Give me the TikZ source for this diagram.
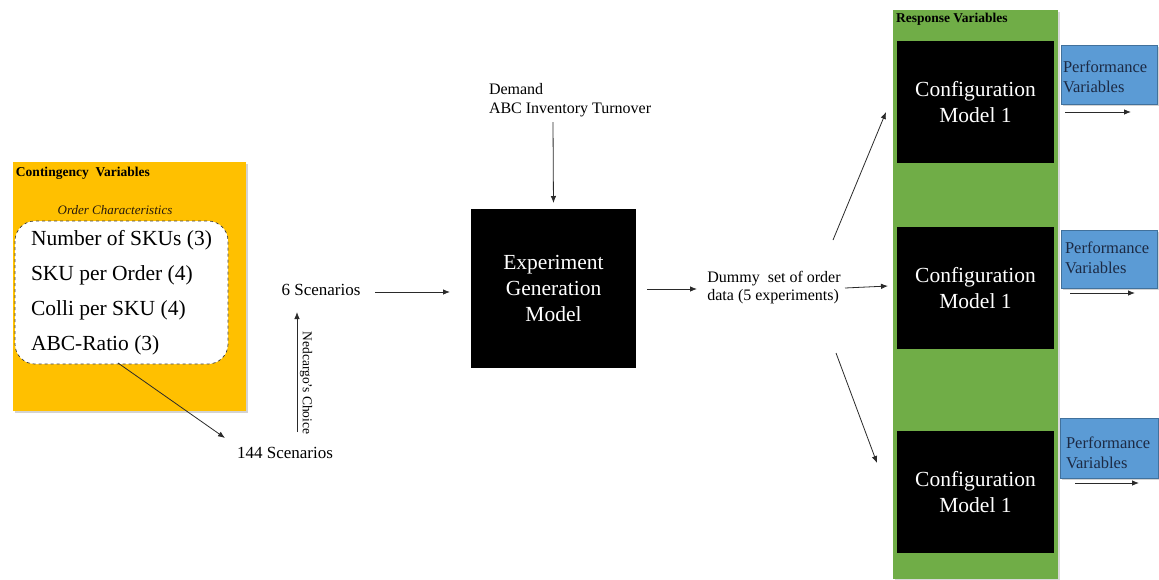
\documentclass[tikz,border=0pt]{standalone}
\usepackage{fontspec}
\setmainfont{Liberation Serif}
\usetikzlibrary{arrows.meta,shadows}
\definecolor{contorange}{HTML}{FFC000}
\definecolor{respgreen}{HTML}{70AD47}
\definecolor{perfblue}{HTML}{5B9BD5}
\definecolor{perfedge}{HTML}{41719C}
\definecolor{perftext}{HTML}{1C2A44}
\definecolor{linegray}{HTML}{2A2A2A}
\newcommand{\fsz}[2]{\rmfamily\fontsize{#1}{#2}\selectfont}
\begin{document}
\begin{tikzpicture}[x=1pt,y=-1pt,
  every node/.style={inner sep=0pt, outer sep=0pt},
  arr/.style={draw=linegray, line width=0.8pt, -{Latex[length=7pt,width=5.5pt]}},
  blackbox/.style={fill=black, draw=none, text=white, align=center,
    font=\fsz{21.5}{26}},
  perfbox/.style={fill=perfblue, draw=perfedge, line width=0.5pt,
    drop shadow={shadow xshift=1.5pt, shadow yshift=-1.5pt, opacity=0.35}},
  perftxt/.style={anchor=west, align=left, text=perftext, font=\fsz{16.5}{20}},
  plain/.style={font=\fsz{17}{20}}]
\useasboundingbox (0,0) rectangle (1159,579);

% ---- contingency variables ----
\fill[contorange, drop shadow={shadow xshift=1.5pt, shadow yshift=-1.5pt, opacity=0.35}]
  (13,162) rectangle (246,411);
\node[anchor=west, font=\fsz{13.5}{16}\bfseries] (conttitle) at (16,173) {Contingency\ \ Variables};
\node[font=\fsz{13}{15}\itshape, text=black!80!brown] (ordchar) at (115,210) {Order Characteristics};
\draw[fill=white, dashed, draw=black!75, line width=0.7pt, rounded corners=20pt]
  (15,221) rectangle (228,364);
\node[anchor=west, font=\fsz{21.5}{25}] (v1) at (31,240) {Number of SKUs\ (3)};
\node[anchor=west, font=\fsz{21.5}{25}] (v2) at (31,275) {SKU\ per Order (4)};
\node[anchor=west, font=\fsz{21.5}{25}] (v3) at (31,310) {Colli per SKU\ (4)};
\node[anchor=west, font=\fsz{21.5}{25}] (v4) at (31,345) {ABC-Ratio (3)};

% ---- scenario reduction ----
\node[plain] (s144) at (285,453) {144 Scenarios};
\node[plain] (s6) at (321,290) {6 Scenarios};
\node[font=\fsz{13.5}{16}, rotate=-90] (choice) at (306,383) {Nedcargo's Choice};

% ---- experiment generation ----
\node[blackbox, minimum width=165, minimum height=159] (exp) at (553.5,288.5)
  {Experiment\\Generation\\Model};
\node[anchor=west, align=left, font=\fsz{16}{19}]
  (demand) at (489,100.5) {Demand\\ABC Inventory Turnover};
\node[align=left, font=\fsz{16}{18}]
  (dummy) at (774,288) {Dummy\ \ set of order\\data (5 experiments)};

% ---- response variables ----
\fill[respgreen, drop shadow={shadow xshift=1.5pt, shadow yshift=-1.5pt, opacity=0.3}]
  (893,10) rectangle (1058,579);
\node[anchor=west, font=\fsz{13.5}{16}\bfseries] (resptitle) at (896,19) {Response Variables};
\node[blackbox, minimum width=157, minimum height=122] (cm1) at (975.5,102)
  {Configuration\\Model 1};
\node[blackbox, minimum width=157, minimum height=122] (cm2) at (975.5,288)
  {Configuration\\Model 1};
\node[blackbox, minimum width=157, minimum height=122] (cm3) at (975.5,492)
  {Configuration\\Model 1};

% ---- performance variables ----
\node[perfbox, minimum width=96, minimum height=59] (pb1) at (1109,74.5) {};
\node[perftxt] (pt1) at (1063,77) {Performance\\Variables};
\node[perfbox, minimum width=96, minimum height=58] (pb2) at (1109,259) {};
\node[perftxt] (pt2) at (1065,258) {Performance\\Variables};
\node[perfbox, minimum width=98, minimum height=60] (pb3) at (1109,448) {};
\node[perftxt] (pt3) at (1066,453) {Performance\\Variables};

% ---- connector end points ----
\coordinate (abcout) at (118,363);
\coordinate (s144in) at (225,438);
\coordinate (choicelow) at (297,432);
\coordinate (choicetop) at (297,312);
\coordinate (s6out) at (375,292);
\coordinate (expin) at (450,292);
\coordinate (demout) at (553,122);
\coordinate (expout) at (647,289);
\coordinate (dummyin) at (697,289);
\coordinate (dummyout) at (845,288);
\coordinate (cm2in) at (888,286);
\coordinate (upfrom) at (833,240);
\coordinate (cm1in) at (886,112);
\coordinate (downfrom) at (836,353);
\coordinate (cm3in) at (877,463);
\coordinate (o1a) at (1065,112);
\coordinate (o1b) at (1131,112);
\coordinate (o2a) at (1070,293);
\coordinate (o2b) at (1135,293);
\coordinate (o3a) at (1075,483);
\coordinate (o3b) at (1139,483);

% ---- connectors ----
\draw[arr] (abcout) -- (s144in);
\draw[arr] (choicelow) -- (choicetop);
\draw[arr] (s6out) -- (expin);
\draw[arr, shorten >=6pt] (demout) -- (exp.north);
\draw[arr] (expout) -- (dummyin);
\draw[arr] (dummyout) -- (cm2in);
\draw[arr] (upfrom) -- (cm1in);
\draw[arr] (downfrom) -- (cm3in);
\draw[arr] (o1a) -- (o1b);
\draw[arr] (o2a) -- (o2b);
\draw[arr] (o3a) -- (o3b);
\end{tikzpicture}
\end{document}
